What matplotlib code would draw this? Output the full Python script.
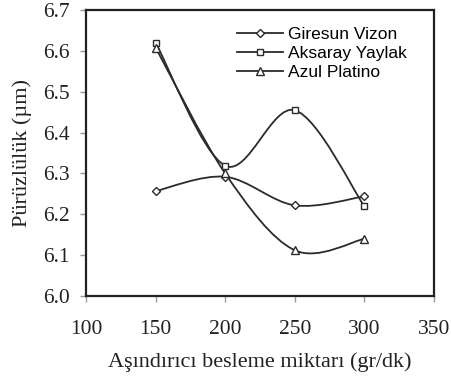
import numpy as np
import matplotlib.pyplot as plt
from matplotlib.path import Path
from matplotlib.patches import PathPatch
from matplotlib.lines import Line2D

plt.rcParams['font.family'] = ['Liberation Serif', 'DejaVu Serif']

besleme = [150, 200, 250, 300]
giresun = [6.257, 6.292, 6.222, 6.244]
aksaray = [6.620, 6.319, 6.455, 6.220]
azul = [6.608, 6.300, 6.112, 6.140]

names = ['Giresun Vizon', 'Aksaray Yaylak', 'Azul Platino']
markers = ['D', 's', '^']
msizes = [4.5, 5, 5.5]
col = '#2b2b2b'


def smooth_path(x, y):
    # excel-like smoothed line (catmull-rom as cubic bezier)
    p = np.column_stack([x, y]).astype(float)
    n = len(p)
    verts = [p[0]]
    codes = [Path.MOVETO]
    for i in range(n - 1):
        p0 = p[i - 1] if i > 0 else p[i]
        p3 = p[i + 2] if i + 2 < n else p[i + 1]
        c1 = p[i] + (p[i + 1] - p0) / 6
        c2 = p[i + 1] - (p3 - p[i]) / 6
        verts += [c1, c2, p[i + 1]]
        codes += [Path.CURVE4] * 3
    return Path(verts, codes)


fig = plt.figure(figsize=(4.51, 3.91), dpi=100)
ax = fig.add_axes([0.191, 0.243, 0.771, 0.731])

handles = []
for ys, m, ms, name in zip([giresun, aksaray, azul], markers, msizes, names):
    ax.add_patch(PathPatch(smooth_path(besleme, ys), fc='none', ec=col, lw=1.3, zorder=2))
    ax.plot(besleme, ys, ls='none', marker=m, ms=ms, mfc='white', mec=col, mew=1.0, zorder=3)
    handles.append(Line2D([], [], color=col, lw=1.3, marker=m, ms=ms, mfc='white', mec=col, mew=1.0))

ax.set_xlim(100, 350)
ax.set_ylim(6.0, 6.7)
ax.set_xticks([100, 150, 200, 250, 300, 350])
ax.set_yticks(np.arange(6.0, 6.71, 0.1))
ax.set_yticklabels(['%.1f' % v for v in np.arange(6.0, 6.71, 0.1)])

for s in ax.spines.values():
    s.set_linewidth(1.6)
    s.set_color('#222222')

ax.tick_params(axis='both', direction='out', color='#999999', width=1, labelsize=15.5, labelcolor='#222222')
ax.tick_params(axis='x', length=4, pad=13)
ax.tick_params(axis='y', length=4, pad=8)

ax.set_xlabel('Aşındırıcı besleme miktarı (gr/dk)', fontsize=16, color='#222222', labelpad=10)
ax.set_ylabel('Pürüzlülük (µm)', fontsize=16, color='#222222', labelpad=8)

ax.legend(handles, names, loc='upper left', bbox_to_anchor=(0.40, 0.985), frameon=False,
          handlelength=2.6, labelspacing=0.22, handletextpad=0.3, borderaxespad=0.3,
          prop={'family': 'Liberation Sans', 'size': 12.5})

fig.savefig('out.png', dpi=100)
